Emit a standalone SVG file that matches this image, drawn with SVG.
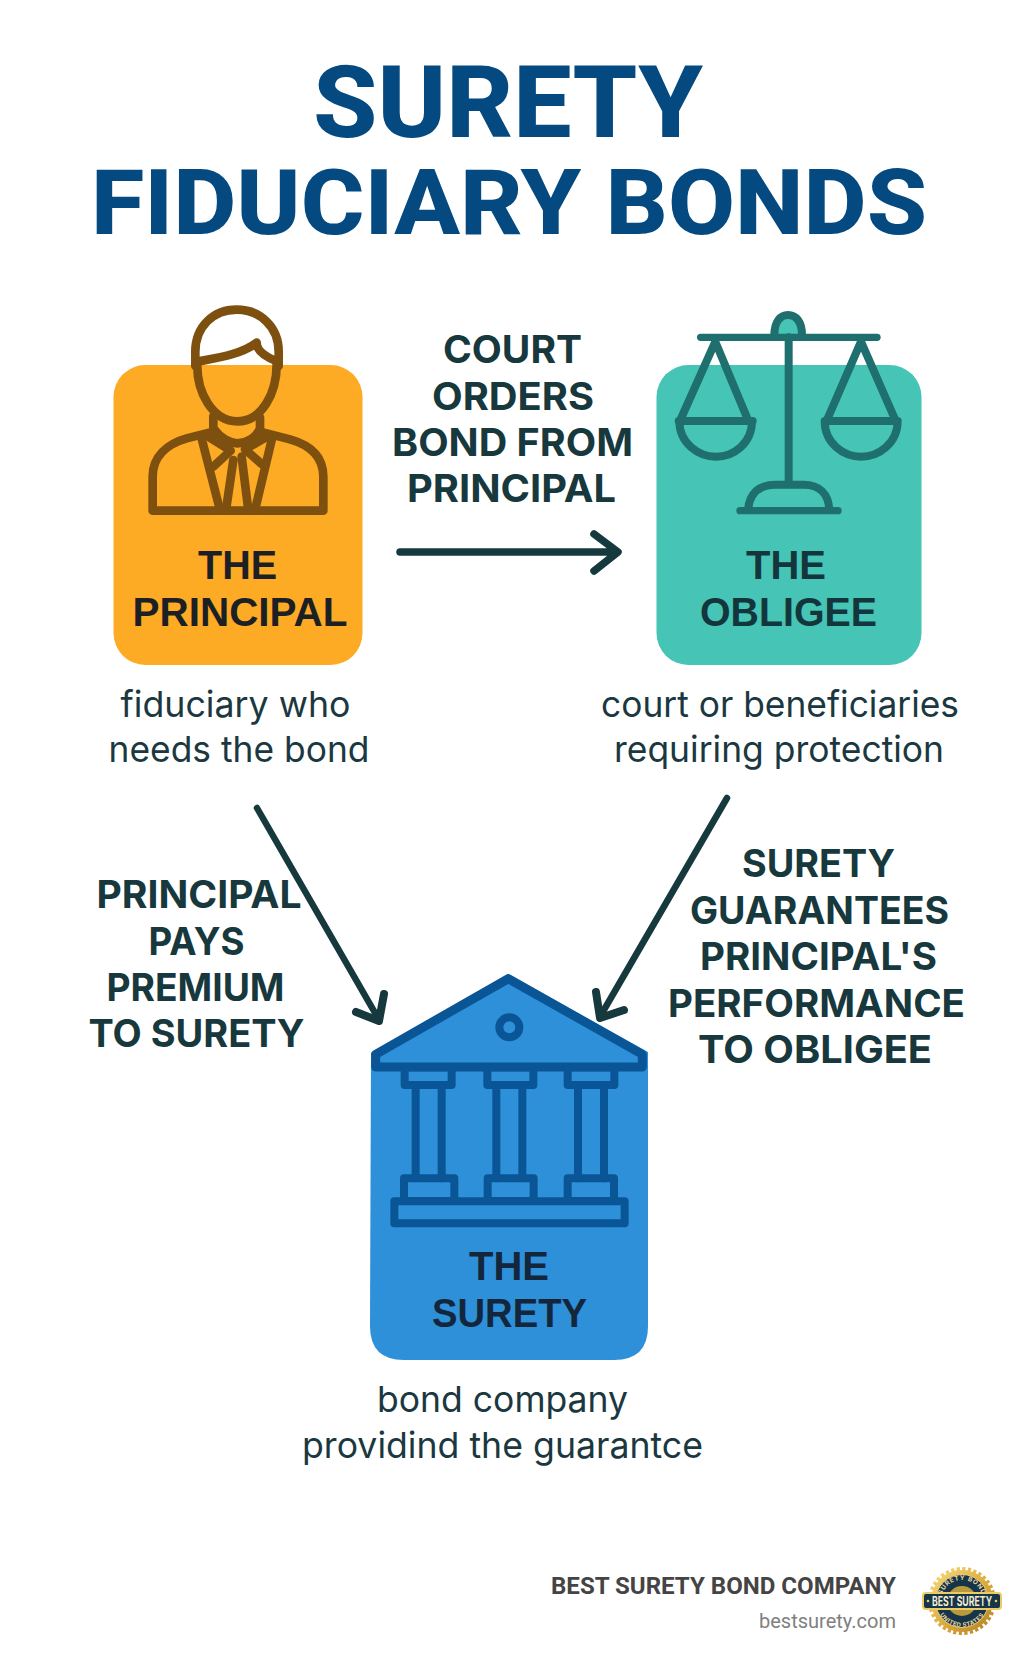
<svg xmlns="http://www.w3.org/2000/svg" width="1024" height="1666" viewBox="0 0 1024 1666">
<style>
text{font-family:"Inter","Liberation Sans",sans-serif}
.title{font-family:"Roboto","Liberation Sans",sans-serif;font-weight:800;fill:#044a80}
.edge{font-size:38.5px;font-weight:650;fill:#17383c}
.name{font-family:"Liberation Sans",sans-serif;font-size:40px;font-weight:700}
.desc{font-size:36px;font-weight:400;fill:#1b3841}
.icon{fill:none;stroke-linecap:round;stroke-linejoin:round;stroke-width:24}
.wire{fill:none;stroke:#16393d;stroke-linecap:round;stroke-linejoin:round}
.foot{font-family:"Roboto","Liberation Sans",sans-serif}
</style>
<defs>
<linearGradient id="gold" x1="0" y1="0" x2="1" y2="1"><stop offset="0" stop-color="#f6dc7c"/><stop offset=".55" stop-color="#dca93c"/><stop offset="1" stop-color="#b07f22"/></linearGradient>
<path id="arcTop" d="M941 1601 A21 21 0 0 1 983 1601"/>
<path id="arcBot" d="M936 1601 A26 26 0 0 0 988 1601"/>
</defs>
<rect width="1024" height="1666" fill="#ffffff"/>

<g id="title">
<text class="title" x="313" y="137" font-size="100" textLength="390" lengthAdjust="spacingAndGlyphs">SURETY</text>
<text class="title" x="91" y="234" font-size="90" textLength="836" lengthAdjust="spacingAndGlyphs">FIDUCIARY BONDS</text>
</g>

<g id="principal">
<rect x="113.5" y="365" width="249" height="300" rx="32" fill="#fdaa25"/>
<g class="icon" stroke="#7d5010" transform="translate(0 280) scale(.33333)" style="stroke-width:26">
<path d="M586 258V215C586 140 640 89 710 89C780 89 836 140 836 215V258"/>
<path d="M592 245C660 232 725 222 770 188C770 208 790 228 832 244"/>
<path d="M592 245C588 340 640 424 712 424C785 424 832 340 830 245"/>
<path d="M640 408V445C662 475 690 490 712 490C740 490 770 472 780 445V412"/>
<path d="M458 692V590C458 530 500 492 560 475L640 455M780 455L870 478C930 495 970 530 970 590V692H458"/>
<path d="M606 480L660 690M815 480L765 690"/>
<path d="M628 472L692 512L640 560M798 472L735 508L785 552"/>
<path d="M700 540L678 690M725 530L745 690"/>
</g>
<text class="name" fill="#1c1f24" x="198" y="579" textLength="79" lengthAdjust="spacingAndGlyphs">THE</text>
<text class="name" fill="#1c1f24" x="132.500" y="626" textLength="215" lengthAdjust="spacingAndGlyphs">PRINCIPAL</text>
<text class="desc" x="120.500" y="717" textLength="230" lengthAdjust="spacingAndGlyphs">fiduciary who</text>
<text class="desc" x="108.500" y="762" textLength="261" lengthAdjust="spacingAndGlyphs">needs the bond</text>
</g>

<g id="obligee">
<rect x="656.500" y="365" width="265" height="300" rx="32" fill="#46c4b6"/>
<g class="icon" stroke="#1f6f6e" transform="translate(512 280) scale(.33333)">
<path d="M787 165C787 125 805 105 828 105C852 105 870 125 870 165" fill="#46c4b6"/>
<path d="M566 172H1095" style="stroke-width:22"/>
<path d="M830 172V610"/>
<path d="M708 690C712 640 742 614 790 614H875C920 614 950 640 952 690"/>
<path d="M684 692H978" style="stroke-width:22"/>
<path d="M610 185L505 420M610 185L708 420M500 423H722M502 423C502 490 560 530 612 530C665 530 720 490 720 423"/>
<path d="M1047 185L945 420M1047 185L1150 420M938 423H1157M938 423C938 490 995 530 1047 530C1100 530 1157 490 1157 423"/>
</g>
<text class="name" fill="#13363c" x="746" y="579" textLength="80" lengthAdjust="spacingAndGlyphs">THE</text>
<text class="name" fill="#13363c" x="700" y="626" textLength="177" lengthAdjust="spacingAndGlyphs">OBLIGEE</text>
<text class="desc" x="601" y="717" textLength="358" lengthAdjust="spacingAndGlyphs">court or beneficiaries</text>
<text class="desc" x="614" y="762" textLength="330" lengthAdjust="spacingAndGlyphs">requiring protection</text>
</g>

<g id="surety">
<path d="M371 1053L508 974L648 1052V1326Q648 1360 614 1360H404Q370 1360 370 1326Z" fill="#2d90d8"/>
<g class="icon" stroke="#0a5596" transform="translate(340 950) scale(.33333)">
<path d="M505 86L107 313V351H907V313Z" style="stroke-width:27"/>
<circle cx="508" cy="232" r="30"/>
<rect x="194" y="352" width="141" height="53"/>
<rect x="442" y="352" width="138" height="53"/>
<rect x="683" y="352" width="140" height="53"/>
<path d="M227 405V685M305 405V685M469 405V685M547 405V685M714 405V685M792 405V685"/>
<rect x="192" y="685" width="151" height="68"/>
<rect x="443" y="685" width="138" height="68"/>
<rect x="683" y="685" width="139" height="68"/>
<rect x="163" y="754" width="691" height="66"/>
</g>
<text class="name" fill="#14263b" x="469" y="1280" textLength="80" lengthAdjust="spacingAndGlyphs">THE</text>
<text class="name" fill="#14263b" x="432" y="1327" textLength="155" lengthAdjust="spacingAndGlyphs">SURETY</text>
<text class="desc" x="377" y="1412" textLength="251" lengthAdjust="spacingAndGlyphs">bond company</text>
<text class="desc" x="302" y="1458" textLength="401" lengthAdjust="spacingAndGlyphs">providind the guarantce</text>
</g>

<g id="connectors">
<path class="wire" stroke-width="7.5" d="M400 552H616M594 534L618 552L594 571"/>
<path class="wire" stroke-width="6.5" d="M257 808L378 1018"/>
<path class="wire" stroke-width="8" d="M384 994L379 1021L356 1012"/>
<path class="wire" stroke-width="6.5" d="M727 798L601 1015"/>
<path class="wire" stroke-width="8" d="M596 992L600 1018L624 1010"/>
</g>

<g id="connector-labels">
<text class="edge" x="443" y="363" textLength="139" lengthAdjust="spacingAndGlyphs">COURT</text>
<text class="edge" x="432" y="410" textLength="162" lengthAdjust="spacingAndGlyphs">ORDERS</text>
<text class="edge" x="392" y="456" textLength="241" lengthAdjust="spacingAndGlyphs">BOND FROM</text>
<text class="edge" x="407" y="502" textLength="209" lengthAdjust="spacingAndGlyphs">PRINCIPAL</text>
<text class="edge" x="96.500" y="908" textLength="205" lengthAdjust="spacingAndGlyphs">PRINCIPAL</text>
<text class="edge" x="148.500" y="955" textLength="96" lengthAdjust="spacingAndGlyphs">PAYS</text>
<text class="edge" x="106.500" y="1001" textLength="178" lengthAdjust="spacingAndGlyphs">PREMIUM</text>
<text class="edge" x="88.500" y="1047" textLength="216" lengthAdjust="spacingAndGlyphs">TO SURETY</text>
<text class="edge" x="742" y="877" textLength="153" lengthAdjust="spacingAndGlyphs">SURETY</text>
<text class="edge" x="690" y="924" textLength="259" lengthAdjust="spacingAndGlyphs">GUARANTEES</text>
<text class="edge" x="700" y="970" textLength="237" lengthAdjust="spacingAndGlyphs">PRINCIPAL'S</text>
<text class="edge" x="668" y="1017" textLength="297" lengthAdjust="spacingAndGlyphs">PERFORMANCE</text>
<text class="edge" x="698" y="1063" textLength="234" lengthAdjust="spacingAndGlyphs">TO OBLIGEE</text>
</g>

<g id="footer">
<text class="foot" x="551" y="1594" font-size="24" font-weight="700" fill="#444444" textLength="345" lengthAdjust="spacingAndGlyphs">BEST SURETY BOND COMPANY</text>
<text class="foot" x="759" y="1628" font-size="21" fill="#808080" textLength="137" lengthAdjust="spacingAndGlyphs">bestsurety.com</text>
<g id="badge">
<circle cx="962" cy="1601" r="32" fill="none" stroke="url(#gold)" stroke-width="4" stroke-dasharray="3.2 2.385"/>
<circle cx="962" cy="1601" r="31" fill="url(#gold)"/>
<circle cx="962" cy="1601" r="26.500" fill="#16344a" stroke="#f1d071" stroke-width="1"/>
<circle cx="962" cy="1601" r="15" fill="#b99a3a"/>
<text font-size="6.500" font-weight="700" fill="#e9d9a0" letter-spacing=".6"><textPath href="#arcTop" startOffset="50%" text-anchor="middle">SURETY BOND</textPath></text>
<text font-size="6" font-weight="700" fill="#e9d9a0" letter-spacing=".4"><textPath href="#arcBot" startOffset="50%" text-anchor="middle">UNITED STATES</textPath></text>
<rect x="923" y="1593" width="78" height="16" rx="3" fill="#16344a" stroke="#eccb62" stroke-width="2"/>
<circle cx="928" cy="1601" r="1.300" fill="#eccb62"/>
<circle cx="996" cy="1601" r="1.300" fill="#eccb62"/>
<text x="932" y="1606" font-size="13" font-weight="700" fill="#f4ecd0" textLength="60" lengthAdjust="spacingAndGlyphs">BEST SURETY</text>
</g>
</g>
</svg>
